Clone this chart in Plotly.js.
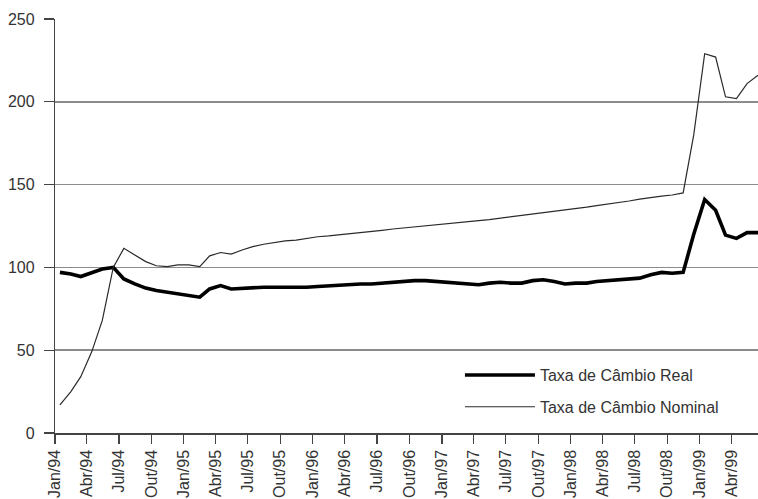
<!DOCTYPE html>
<html>
<head>
<meta charset="utf-8">
<script src="https://cdn.plot.ly/plotly-3.0.1.min.js"></script>
<style>
  html, body { margin: 0; padding: 0; background: #ffffff; }
  #chart { width: 758px; height: 499px; }
</style>
</head>
<body>
<div id="chart"></div>
<script>
// Monthly series, Jan/1994 .. Jun/1999
const startYear = 1994;
const monthCount = 66;

const seriesRealName = "Taxa de Câmbio Real";
const seriesNominalName = "Taxa de Câmbio Nominal";

const realRate = [
  97, 96, 94.5, 96.5, 99, 100, 93, 90, 87.5, 86, 85, 84,
  83, 82, 87, 89, 87, 87.5, 88, 88, 88, 88, 87.5, 88,
  88.5, 89, 89.5, 90, 90, 90, 90.5, 91, 91.5, 92, 92, 91.5,
  91, 90, 89.5, 89.5, 90.5, 91, 90.5, 90.5, 92, 92.5, 91.5, 90,
  90.5, 90.5, 91.5, 92, 92, 93, 93.5, 95.5, 97, 96.5, 97, 120,
  141, 134.5, 119.5, 117.5, 121, 121
];

const nominalRate = [
  17, 25, 34, 49, 68, 100, 111.5, 107.5, 103.5, 101, 100.5, 101.5,
  101.5, 100.5, 107, 109, 108, 110.5, 112.5, 114, 115, 116, 116.5, 117.5,
  118.5, 119, 119.6, 120.3, 120.8, 121.5, 122.4, 123.2, 123.9, 124.6, 125.3, 126,
  126.7, 127.2, 127.8, 128.3, 128.9, 129.7, 130.5, 131.3, 132.2, 133, 133.9, 134.7,
  135.6, 136.4, 137.3, 138.1, 139, 140.1, 141.2, 142.2, 143, 143.7, 145, 180,
  229, 227, 203, 202, 211, 216
];

const monthAbbr = ["Jan", "Fev", "Mar", "Abr", "Mai", "Jun", "Jul", "Ago", "Set", "Out", "Nov", "Dez"];
const yTicks = [0, 50, 100, 150, 200, 250];

function pad(n) { return (n < 10 ? "0" : "") + n; }

// Mid-month dates for the monthly observations
const dates = [];
for (let i = 0; i < monthCount; i++) {
  const y = startYear + Math.floor(i / 12);
  const m = i % 12;
  dates.push(y + "-" + pad(m + 1) + "-15");
}

// Quarterly ticks at month starts, labelled "Jan/94", "Abr/94", ...
const tickVals = [];
const tickText = [];
for (let i = 0; i < monthCount; i += 3) {
  const y = startYear + Math.floor(i / 12);
  const m = i % 12;
  tickVals.push(y + "-" + pad(m + 1) + "-01");
  tickText.push(monthAbbr[m] + "/" + String(y).slice(2));
}

const font = "Liberation Sans, Arial, Helvetica, sans-serif";

const traces = [
  {
    x: dates, y: realRate, type: "scatter", mode: "lines",
    name: seriesRealName, legendgroup: "a",
    line: { color: "#000000", width: 3.6 }
  },
  {
    x: dates, y: nominalRate, type: "scatter", mode: "lines",
    name: seriesNominalName, legendgroup: "b",
    line: { color: "#2a2a2a", width: 1.2 }
  }
];

const layout = {
  width: 758, height: 499,
  margin: { l: 55, r: 0, t: 19, b: 66 },
  paper_bgcolor: "#ffffff",
  plot_bgcolor: "#ffffff",
  font: { family: font, size: 16, color: "#333333" },
  showlegend: true,
  legend: {
    x: 0.576, y: 0.181, xanchor: "left", yanchor: "top",
    bgcolor: "rgba(255,255,255,0)",
    borderwidth: 0,
    itemwidth: 70,
    tracegroupgap: 8,
    font: { family: font, size: 16, color: "#333333" }
  },
  xaxis: {
    type: "date",
    range: ["1994-01-01", "1999-06-15"],
    tickmode: "array",
    tickvals: tickVals,
    ticktext: tickText,
    tickangle: -90,
    ticks: "outside", ticklen: 9, tickwidth: 1.2, tickcolor: "#444444",
    tickfont: { family: font, size: 16, color: "#333333" },
    showgrid: false, zeroline: false,
    showline: true, linecolor: "#444444", linewidth: 1.5,
    automargin: false, fixedrange: true
  },
  yaxis: {
    range: [0, 250],
    tickmode: "array",
    tickvals: yTicks,
    ticks: "outside", ticklen: 10, tickwidth: 1.2, tickcolor: "#444444",
    ticklabelstandoff: 6,
    tickfont: { family: font, size: 16, color: "#333333" },
    showgrid: true, gridcolor: "#8c8c8c", gridwidth: 1.6,
    zeroline: false,
    showline: true, linecolor: "#444444", linewidth: 1.2,
    automargin: false, fixedrange: true
  }
};

Plotly.newPlot("chart", traces, layout, { displayModeBar: false, staticPlot: true });
</script>
</body>
</html>
